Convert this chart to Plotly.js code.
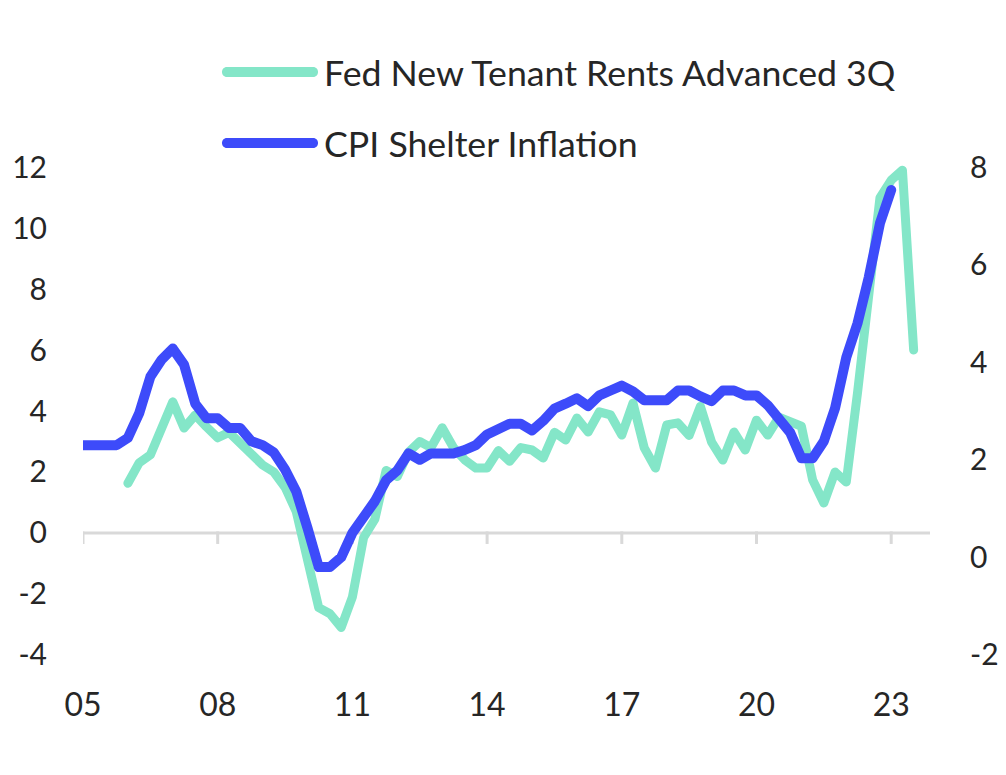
<!DOCTYPE html>
<html>
<head>
<meta charset="utf-8">
<script src="https://cdn.plot.ly/plotly-3.0.1.min.js"></script>
<style>
  html, body { margin: 0; padding: 0; background: #ffffff; }
  #chart { width: 1006px; height: 775px; }
  .scatterlayer .js-line { stroke-linecap: round !important; stroke-linejoin: round !important; }
</style>
</head>
<body>
<div id="chart"></div>
<script>
// Quarterly time index (decimal years), 2005Q1 .. 2023Q3
const quarters = [
  2005.00, 2005.25, 2005.50, 2005.75, 2006.00, 2006.25, 2006.50, 2006.75,
  2007.00, 2007.25, 2007.50, 2007.75, 2008.00, 2008.25, 2008.50, 2008.75,
  2009.00, 2009.25, 2009.50, 2009.75, 2010.00, 2010.25, 2010.50, 2010.75,
  2011.00, 2011.25, 2011.50, 2011.75, 2012.00, 2012.25, 2012.50, 2012.75,
  2013.00, 2013.25, 2013.50, 2013.75, 2014.00, 2014.25, 2014.50, 2014.75,
  2015.00, 2015.25, 2015.50, 2015.75, 2016.00, 2016.25, 2016.50, 2016.75,
  2017.00, 2017.25, 2017.50, 2017.75, 2018.00, 2018.25, 2018.50, 2018.75,
  2019.00, 2019.25, 2019.50, 2019.75, 2020.00, 2020.25, 2020.50, 2020.75,
  2021.00, 2021.25, 2021.50, 2021.75, 2022.00, 2022.25, 2022.50, 2022.75,
  2023.00, 2023.25, 2023.50
];

// CPI Shelter Inflation (right axis), 2005Q1 .. 2023Q1
const cpiShelter = [
  2.3, 2.3, 2.3, 2.3, 2.45, 2.95, 3.7, 4.05,
  4.28, 3.95, 3.15, 2.85, 2.85, 2.65, 2.65, 2.38,
  2.3, 2.15, 1.8, 1.35, 0.6, -0.2, -0.2, 0.0,
  0.5, 0.82, 1.15, 1.58, 1.78, 2.13, 2.0, 2.13,
  2.13, 2.13, 2.2, 2.3, 2.52, 2.65, 2.74, 2.74,
  2.6, 2.8, 3.05, 3.15, 3.26, 3.1, 3.32, 3.42,
  3.52, 3.4, 3.22, 3.22, 3.22, 3.42, 3.42, 3.3,
  3.2, 3.42, 3.42, 3.32, 3.32, 3.12, 2.85, 2.56,
  2.03, 2.03, 2.38, 3.06, 4.1, 4.8, 5.74, 6.85,
  7.53
];

// Fed New Tenant Rents Advanced 3Q (left axis), 2006Q1 .. 2023Q3
const fedNewTenant = [
  1.63, 2.3, 2.56, 3.4, 4.3, 3.44, 3.87, 3.48,
  3.12, 3.3, 2.97, 2.62, 2.23, 2.0, 1.5, 0.7,
  -0.8, -2.45, -2.65, -3.1, -2.1, -0.15, 0.45, 2.05,
  1.85, 2.65, 3.0, 2.8, 3.45, 2.8, 2.4, 2.13,
  2.13, 2.7, 2.35, 2.8, 2.72, 2.46, 3.3, 3.05,
  3.77, 3.31, 3.97, 3.87, 3.21, 4.26, 2.79, 2.13,
  3.54, 3.61, 3.2, 4.15, 2.98, 2.39, 3.31, 2.72,
  3.7, 3.21, 3.8, 3.65, 3.5, 1.74, 0.98, 2.0,
  1.67, 4.6, 8.0, 11.0, 11.57, 11.9, 6.0
];

const seriesNames = ['Fed New Tenant Rents Advanced 3Q', 'CPI Shelter Inflation'];
const xTickVals = [2005, 2008, 2011, 2014, 2017, 2020, 2023];
const xTickText = ['05', '08', '11', '14', '17', '20', '23'];
const leftTickVals = [-4, -2, 0, 2, 4, 6, 8, 10, 12];
const leftTickText = ['-4', '-2', '0', '2', '4', '6', '8', '10', '12'];
const rightTickVals = [-2, 0, 2, 4, 6, 8];
const rightTickText = ['-2', '0', '2', '4', '6', '8'];

const GREEN = '#84E6C8';
const BLUE = '#3D4BFA';
const TEXT = '#262626';
const AXIS = '#D9D9D9';
const FONT = 'Lato, "Open Sans", sans-serif';

const traces = [
  {
    x: quarters.slice(4, 4 + fedNewTenant.length),
    y: fedNewTenant,
    type: 'scatter', mode: 'lines', name: seriesNames[0],
    line: { color: GREEN, width: 9 },
    yaxis: 'y', cliponaxis: false
  },
  {
    x: quarters.slice(0, cpiShelter.length),
    y: cpiShelter,
    type: 'scatter', mode: 'lines', name: seriesNames[1],
    line: { color: BLUE, width: 10 },
    yaxis: 'y2', cliponaxis: false
  }
];

// plot area: left 83, right 930, top 161, bottom 661
const L = 83, R = 930, T = 161, B = 661;
const px2paperX = (px) => (px - L) / (R - L);
const px2paperY = (py) => (B - py) / (B - T);

function pill(color, xPx, yPx) {
  return {
    type: 'path', xref: 'paper', yref: 'paper',
    xsizemode: 'pixel', ysizemode: 'pixel',
    xanchor: px2paperX(xPx), yanchor: px2paperY(yPx),
    path: 'M5,-5 L91,-5 C97.7,-5 97.7,5 91,5 L5,5 C-1.7,5 -1.7,-5 5,-5 Z',
    fillcolor: color, line: { width: 0 }, layer: 'above'
  };
}

const shapes = [
  { type: 'line', xref: 'paper', yref: 'y', x0: 0, x1: 1, y0: 0, y1: 0,
    line: { color: AXIS, width: 3 }, layer: 'below' }
];
xTickVals.forEach(v => {
  shapes.push({ type: 'line', xref: 'x', yref: 'y', ysizemode: 'pixel', yanchor: 0,
    x0: v, x1: v, y0: 1.5, y1: -11, line: { color: AXIS, width: 3 }, layer: 'below' });
});
shapes.push(pill(GREEN, 222, 72));
shapes.push(pill(BLUE, 222, 143));

const annotations = [
  { xref: 'paper', yref: 'paper', x: px2paperX(322), y: px2paperY(72),
    xanchor: 'left', yanchor: 'middle', showarrow: false, text: seriesNames[0],
    font: { family: FONT, size: 35.7, color: TEXT } },
  { xref: 'paper', yref: 'paper', x: px2paperX(322), y: px2paperY(143),
    xanchor: 'left', yanchor: 'middle', showarrow: false, text: seriesNames[1],
    font: { family: FONT, size: 35.7, color: TEXT } }
];

const layout = {
  width: 1006, height: 775,
  margin: { l: L, r: 1006 - R, t: T, b: 775 - B, pad: 0 },
  paper_bgcolor: '#ffffff', plot_bgcolor: '#ffffff',
  showlegend: false,
  font: { family: FONT, color: TEXT },
  xaxis: {
    range: [2005, 2005 + (R - L) / 44.9],
    tickvals: xTickVals, ticktext: xTickText,
    showgrid: false, zeroline: false, showline: false,
    ticks: 'outside', ticklen: 16, tickcolor: 'rgba(0,0,0,0)',
    tickfont: { family: FONT, size: 32, color: TEXT },
    fixedrange: true
  },
  yaxis: {
    range: [-4.2, 12.2], tickvals: leftTickVals, ticktext: leftTickText,
    showgrid: false, zeroline: false, showline: false,
    ticks: 'outside', ticklen: 29, tickcolor: 'rgba(0,0,0,0)',
    tickfont: { family: FONT, size: 30, color: TEXT }
  },
  yaxis2: {
    range: [-2.125, 8.125], tickvals: rightTickVals, ticktext: rightTickText,
    overlaying: 'y', side: 'right',
    showgrid: false, zeroline: false, showline: false,
    ticks: 'outside', ticklen: 33, tickcolor: 'rgba(0,0,0,0)',
    tickfont: { family: FONT, size: 30, color: TEXT }
  },
  shapes: shapes,
  annotations: annotations
};

Plotly.newPlot('chart', traces, layout, { staticPlot: true, displayModeBar: false });
</script>
</body>
</html>
